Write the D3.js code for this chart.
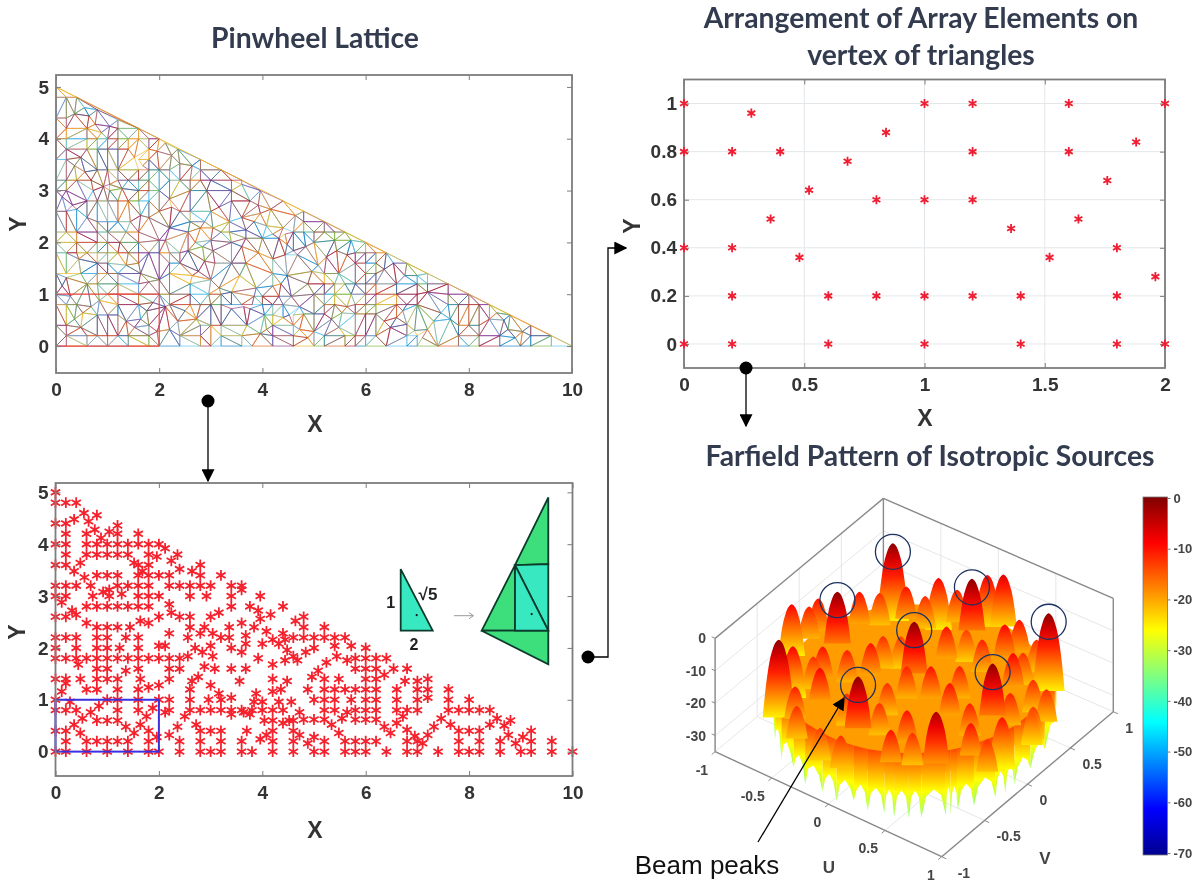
<!DOCTYPE html>
<html>
<head>
<meta charset="utf-8">
<style>
html, body { margin: 0; background: #fff; }
svg { display: block; filter: blur(0.45px); }
text { font-family: "Liberation Sans", Arial, sans-serif; }
.title { font-family: Lato, sans-serif; font-weight: 700; font-size: 28.3px; fill: #333b4e; text-anchor: middle; }
.tick text { font-weight: 700; fill: #333; }
</style>
</head>
<body>
<script src="https://cdn.jsdelivr.net/npm/d3@7"></script>
<script>
// elements inside the blue box
var boxElements = [
  [0,1],[1,1],[1.2,1],[1.6,1],[2,1],[0.28,0.96],[0.84,0.88],[1.88,0.84],
  [0,0.8],[0.2,0.8],[0.4,0.8],[1.2,0.8],[1.6,0.8],[0.68,0.76],[1.76,0.68],[0.52,0.64],
  [0.8,0.6],[1,0.6],[1.2,0.6],[0.36,0.52],[1.64,0.52],[1.36,0.48],
  [0,0.4],[0.2,0.4],[1.8,0.4],[0.48,0.36],[1.52,0.36],[1.96,0.28],
  [0.2,0.2],[0.6,0.2],[0.8,0.2],[1,0.2],[1.2,0.2],[1.4,0.2],[1.8,0.2],
  [0,0],[0.2,0],[0.6,0],[1,0],[1.4,0],[1.8,0],[2,0]
];
// the rest of the lattice vertices
var outerElements = [
  [0,5],[0,4.8],[0.2,4.8],[0.4,4.8],[0.55,4.6],[0.8,4.56],[0.36,4.48],[0.64,4.44],[0,4.4],[0.2,4.4],
  [1.2,4.36],[0.76,4.28],[1.04,4.24],[0.2,4.2],[0.6,4.2],[1.2,4.2],[1.6,4.2],[0.88,4.12],
  [0,4],[0.2,4],[0.6,4],[0.8,4],[1,4],[1.2,4],[1.4,4],[1.6,4],[1.8,4],[2,4],
  [2.12,3.92],[0.2,3.8],[0.6,3.8],[0.8,3.8],[1,3.8],[1.2,3.8],[1.4,3.8],[1.8,3.8],[2.36,3.8],[1.96,3.76],
  [2.24,3.68],[0.48,3.64],[1.52,3.64],[0,3.6],[0.2,3.6],[1.6,3.6],[1.8,3.6],[2.8,3.6],[2.4,3.52],
  [0.36,3.48],[1.68,3.48],[2.64,3.48],[0.8,3.4],[1,3.4],[1.2,3.4],[1.6,3.4],[1.8,3.4],[2,3.4],[2.2,3.4],[2.8,3.4],[3.2,3.4],
  [0.56,3.36],[0,3.2],[0.2,3.2],[0.4,3.2],[0.68,3.2],[1.2,3.2],[1.4,3.2],[1.6,3.2],[1.8,3.2],
  [2.2,3.2],[2.4,3.2],[2.6,3.2],[2.8,3.2],[3,3.2],[3.4,3.2],[3.6,3.2],[1.04,3.12],[3.6,3.12],[0.92,3.08],[1.28,3.04],
  [0,3],[0.2,3],[0.72,3],[1.04,3],[1.6,3],[1.8,3],[2,3],[2.6,3],[2.92,3],[3.4,3],[3.96,3],
  [0.12,2.88],[2.2,2.84],[0.6,2.8],[0.8,2.8],[1,2.8],[1.2,2.8],[1.4,2.8],[1.6,2.8],[1.8,2.8],[3.4,2.8],[3.76,2.8],[4.4,2.8],
  [0.32,2.72],[3.92,2.72],[2.24,2.68],[3.16,2.68],[0.4,2.64],[4.16,2.64],[0,2.6],[0.2,2.6],[2,2.6],[2.4,2.6],[2.6,2.6],[3,2.6],[4.8,2.6],
  [3.96,2.56],[1.64,2.52],[4.64,2.52],[0.6,2.48],[1.8,2.48],[3.6,2.48],
  [0.8,2.4],[1,2.4],[1.2,2.4],[1.44,2.4],[2.6,2.4],[2.88,2.4],[3.36,2.4],[3.84,2.4],[4.8,2.4],[5.2,2.4],
  [4.08,2.32],[2.2,2.28],[2.8,2.28],[3.04,2.28],[4.4,2.28],[3.68,2.24],
  [0,2.2],[0.2,2.2],[0.4,2.2],[0.8,2.2],[1,2.2],[1.36,2.2],[1.6,2.2],[2.56,2.2],[3.2,2.2],[3.36,2.2],[4.6,2.2],[4.8,2.2],[5,2.2],[5.2,2.2],[5.4,2.2],[5.6,2.2],
  [4.2,2.16],[4.44,2.16],[3.68,2.08],[4,2.08],[4.32,2.08],[2,2.04],[2.12,2.04],[3,2.04],[5.4,2.04],[5.72,2.04],
  [0,2],[0.4,2],[0.8,2],[1,2],[1.24,2],[1.6,2],[2.7,2],[3.4,2],[5,2],[6,2],
  [4.48,1.96],[2.84,1.92],[3.6,1.92],[4.84,1.92],[3.04,1.84],[2.56,1.84],[4.6,1.84],[5.44,1.84],
  [0,1.8],[0.2,1.8],[0.4,1.8],[0.6,1.8],[0.8,1.8],[1,1.8],[1.2,1.8],[1.4,1.8],[1.6,1.8],[1.8,1.8],[2,1.8],[2.2,1.8],[2.4,1.8],
  [3.92,1.8],[5.8,1.8],[6,1.8],[6.2,1.8],[6.4,1.8],[4.44,1.76],[4.68,1.76],[5.64,1.76],[5.24,1.72],[0.44,1.68],[4.2,1.68],
  [2.88,1.64],[0.8,1.6],[1,1.6],[1.6,1.6],[2.2,1.6],[2.4,1.6],[3.08,1.6],[3.4,1.6],[3.68,1.6],[5.8,1.6],[6,1.6],[6.2,1.6],[6.54,1.6],[6.8,1.6],
  [1.36,1.56],[5.08,1.56],[6.36,1.48],[2.76,1.44],[4.96,1.44],
  [0,1.4],[0.2,1.4],[0.48,1.4],[0.8,1.4],[1,1.4],[1.2,1.4],[1.64,1.4],[2.2,1.4],[4.2,1.4],[5.2,1.4],[5.48,1.4],[6,1.4],[6.2,1.4],[7.2,1.4],
  [2.64,1.36],[3.56,1.36],[4.48,1.36],[7,1.36],[6.76,1.36],[0.2,1.32],[2,1.28],[3,1.28],[1.8,1.24],
  [0.6,1.2],[0.8,1.2],[1.2,1.2],[1.6,1.2],[2.6,1.2],[4.36,1.2],[4.88,1.2],[5.2,1.2],[5.4,1.2],[5.6,1.2],[5.8,1.2],[6,1.2],[6.2,1.2],[6.6,1.2],[7,1.2],[7.2,1.2],[7.6,1.2],
  [0.12,1.16],[4.2,1.16],[3.16,1.12],[3.88,1.12],[3.4,1.04],[7.2,1.04],
  [2.2,1],[2.6,1],[2.96,1],[3.2,1],[5,1],[5.2,1],[5.4,1],[5.72,1],[6,1],[6.2,1],[6.6,1],[7,1],[7.6,1],[8,1],
  [3.84,0.96],[4,0.96],[4.32,0.96],[4.56,0.96],
  [2.2,0.8],[2.6,0.8],[2.8,0.8],[3,0.8],[3.2,0.8],[3.4,0.8],[3.6,0.8],[3.8,0.8],[4,0.8],[4.2,0.8],[4.4,0.8],
  [5.2,0.8],[5.4,0.8],[5.8,0.8],[6,0.8],[6.2,0.8],[6.6,0.8],[6.8,0.8],[7,0.8],[7.6,0.8],[7.8,0.8],[8,0.8],[8.2,0.8],[8.4,0.8],
  [2.12,0.76],[3.64,0.76],[4.72,0.76],[5.64,0.76],[3.76,0.72],[3.4,0.72],[2.5,0.68],[6.72,0.68],
  [5.54,0.64],[7.46,0.64],[8.54,0.64],[4.8,0.62],[5,0.62],[5.2,0.62],[5.8,0.62],[6,0.62],[6.2,0.62],
  [4.04,0.6],[4.2,0.6],[4.52,0.6],[4.6,0.6],[8.8,0.6],[4.4,0.55],[6.6,0.55],[2.72,0.52],[5.34,0.52],[7.64,0.52],[8.4,0.52],
  [8.68,0.5],[2.36,0.48],[6.36,0.48],[7.32,0.48],[6.8,0.42],
  [2.8,0.4],[3,0.4],[3.2,0.4],[3.7,0.4],[4.2,0.4],[4.6,0.4],[7.8,0.4],[8,0.4],[8.2,0.4],[9.2,0.4],
  [5.48,0.36],[6.48,0.36],[2.2,0.32],[4.08,0.32],[4.72,0.32],[7.2,0.32],[8.76,0.32],[6.95,0.3],[5,0.28],[9.04,0.28],[3.96,0.24],
  [2.4,0.2],[2.8,0.2],[3.2,0.2],[3.6,0.2],[4.2,0.2],[4.6,0.2],[5.2,0.2],[5.6,0.2],[5.8,0.2],[6,0.2],[6.2,0.2],[6.8,0.2],[7,0.2],[7.8,0.2],[8.2,0.2],[8.6,0.2],[9.2,0.2],[9.6,0.2],
  [7.1,0.16],[8.9,0.16],[4.88,0.16],
  [2.4,0],[2.8,0],[3,0],[3.2,0],[3.6,0],[3.8,0],[4.2,0],[4.6,0],[5,0],[5.2,0],[5.6,0],[5.8,0],[6,0],[6.4,0],[6.8,0],[7,0],[7.4,0],[7.8,0],[8,0],[8.2,0],[8.6,0],[9,0],[9.2,0],[9.6,0],[10,0]
];
var latticeEdgesRed = [[0,0,2,0],[0,1,2,1],[2,0,2,1]];
var latticeOuterEdge = [[0,5,10,0]];
var matlabColors = ['#0072BD','#D95319','#EDB120','#7E2F8E','#77AC30','#4DBEEE','#A2142F'];

// far field pattern: peak position (u, v) and level in dB
var beamPeaks = [[-0.65,0.61,-1],[-0.64,-0.05,-1],[0.04,0.62,-1],[0.71,0.63,-1],[0,0,-1],[0.73,-0.05,-1],[0.05,-0.72,-1]];
var cornerPeaks = [[-0.65,-0.72,-1],[0.69,-0.655,-3]];
var sideLobes = [
  [-0.99,-0.12,-9],[-0.92,-0.01,-11],[-0.9,0.07,-10],[-0.71,0.3,-10],[-0.63,0.43,-12],[-0.48,0.54,-10],[-0.35,0.59,-12],[-0.33,0.72,-9],
  [-0.19,0.75,-11],[-0.05,0.92,-8],[0.06,0.96,-7],[0.39,0.71,-10],[0.58,0.66,-12],
  [-0.7,-0.49,-9],[-0.58,-0.41,-12],[-0.55,-0.34,-10],[-0.41,-0.24,-11],[-0.3,-0.11,-10],[-0.32,0.06,-12],[-0.24,0.16,-13],
  [0.02,0.35,-10],[0.09,0.49,-13],[0.29,0.41,-11],[0.36,0.58,-9],[0.59,0.49,-12],
  [-0.46,-0.78,-11],[-0.4,-0.57,-9],[-0.14,-0.6,-12],[0.02,-0.34,-12],[0.04,-0.14,-11],[0.2,-0.07,-10],[0.34,0.08,-11],[0.6,0.36,-9],[0.83,0.29,-12],[0.97,0.26,-12],
  [-0.34,-0.92,-12],[-0.08,-0.99,-13],[0.11,-0.55,-12],[0.36,-0.56,-10],[0.42,-0.14,-10],[0.65,-0.21,-11],[0.81,0.05,-11],[0.99,0.08,-13],
  [0.11,-1,-12],[0.4,-0.8,-10],[0.5,-0.68,-12],[0.81,-0.41,-10],[0.97,-0.43,-12],[0.95,-0.23,-10],[1,0.05,-14]
];
// nulls along the front rim: angle on the unit circle (deg) and depth (dB)
var rimAngles = [-143,-131,-122,-111,-103,-93,-86,-78,-72,-65,-61,-55,-50,-40,-38,-35,-28,-18,-13,-8,2,14,29,37];
var rimDepths = [-26,-31,-33,-31,-33,-32,-33,-31,-33,-33,-34,-34,-34,-34,-34,-33,-33,-33,-33,-32,-31,-30,-28,-26];

var jetColors = ['#00008f','#0000ff','#00ffff','#ffff00','#ff0000','#800000'];
var jetLevels = [-70,-61,-44,-26,-9,0];
var colorbarTicks = [0,-10,-20,-30,-40,-50,-60,-70];
var surfaceTicks = [-1,-0.5,0,0.5,1];
var surfaceZTicks = [0,-10,-20,-30];

// inset, one unit is the short leg of the small triangle
var smallTriangle = [[0,0],[0,1.85],[0.96,0]];
var greenParts = [[[2,4],[1,1.97],[2,2]],[[0,0],[1,1.97],[1,0]],[[0,0],[2,0],[2,-1.01]]];
var aquaParts = [[[1,1.97],[2,2],[2,0]],[[1,1.97],[1,0],[2,0]]];

var svg = d3.select('body').append('svg').attr('width', 1201).attr('height', 882);
var defs = svg.append('defs');
var boxGrey = '#7d7d7d';

var head = defs.append('marker').attr('id', 'head').attr('viewBox', '0 0 10 10').attr('refX', 9).attr('refY', 5)
  .attr('markerUnits', 'userSpaceOnUse').attr('markerWidth', 13).attr('markerHeight', 13).attr('orient', 'auto');
head.append('path').attr('d', 'M0,0L10,5L0,10Z').attr('fill', '#000');

function drawAxes(g, x, y, xTicks, yTicks, grid) {
  var xr = x.range(), yr = y.range();
  if (grid) {
    g.selectAll('.gx').data(xTicks).enter().append('line')
      .attr('x1', x).attr('x2', x).attr('y1', yr[0]).attr('y2', yr[1]).attr('stroke', '#e4e7ea');
    g.selectAll('.gy').data(yTicks).enter().append('line')
      .attr('y1', y).attr('y2', y).attr('x1', xr[0]).attr('x2', xr[1]).attr('stroke', '#e4e7ea');
  }
  var fmt = function(d) { return String(d); };
  var bottom = g.append('g').attr('transform', 'translate(0,' + yr[0] + ')')
    .call(d3.axisBottom(x).tickValues(xTicks).tickFormat(fmt).tickSize(-5).tickPadding(10));
  var left = g.append('g').attr('transform', 'translate(' + xr[0] + ',0)')
    .call(d3.axisLeft(y).tickValues(yTicks).tickFormat(fmt).tickSize(-5).tickPadding(7));
  var top = g.append('g').attr('transform', 'translate(0,' + yr[1] + ')')
    .call(d3.axisTop(x).tickValues(xTicks).tickFormat('').tickSize(-5));
  var right = g.append('g').attr('transform', 'translate(' + xr[1] + ',0)')
    .call(d3.axisRight(y).tickValues(yTicks).tickFormat('').tickSize(-5));
  [bottom, left, top, right].forEach(function(a) {
    a.select('.domain').remove();
    a.selectAll('line').attr('stroke', boxGrey);
    a.selectAll('text').attr('font-size', 19).attr('font-family', '"Liberation Sans", Arial, sans-serif');
  });
  g.append('rect').attr('x', xr[0]).attr('y', yr[1]).attr('width', xr[1] - xr[0]).attr('height', yr[0] - yr[1])
    .attr('fill', 'none').attr('stroke', boxGrey).attr('stroke-width', 1.8);
}

function axisLabel(x, y, txt, rotate) {
  svg.append('text').attr('transform', 'translate(' + x + ',' + y + ')' + (rotate ? ' rotate(-90)' : ''))
    .attr('text-anchor', 'middle').attr('font-weight', 700).attr('font-size', 23).attr('fill', '#333').text(txt);
}

// ---- top left, lattice
var ax = d3.scaleLinear().domain([0, 10]).range([56, 572]);
var ay = d3.scaleLinear().domain([-0.52, 5.23]).range([373, 75]);
var panelA = svg.append('g');
var allElements = boxElements.concat(outerElements);
var mesh = d3.Delaunay.from(allElements);
var triangles = [];
for (var t = 0; t < mesh.triangles.length; t += 3) {
  var p0 = allElements[mesh.triangles[t]], p1 = allElements[mesh.triangles[t + 1]], p2 = allElements[mesh.triangles[t + 2]];
  // slivers along the hypotenuse only darken it
  var area = Math.abs((p1[0] - p0[0]) * (p2[1] - p0[1]) - (p2[0] - p0[0]) * (p1[1] - p0[1])) / 2;
  if (area > 0.012) triangles.push([mesh.triangles[t], mesh.triangles[t + 1], mesh.triangles[t + 2]]);
}
var meshLine = d3.line().x(function(i) { return ax(allElements[i][0]); }).y(function(i) { return ay(allElements[i][1]); })
  .curve(d3.curveLinearClosed);
panelA.selectAll('.tri').data(triangles).enter().append('path')
  .attr('d', meshLine).attr('fill', 'none').attr('stroke-width', 1).attr('stroke-opacity', 0.62)
  .attr('stroke', function(d, i) { return matlabColors[i % matlabColors.length]; });
panelA.selectAll('.hyp').data(latticeOuterEdge).enter().append('line')
  .attr('x1', function(d) { return ax(d[0]); }).attr('y1', function(d) { return ay(d[1]); })
  .attr('x2', function(d) { return ax(d[2]); }).attr('y2', function(d) { return ay(d[3]); })
  .attr('stroke', '#EDB120').attr('stroke-opacity', 0.8);
panelA.selectAll('.red').data(latticeEdgesRed).enter().append('line')
  .attr('x1', function(d) { return ax(d[0]); }).attr('y1', function(d) { return ay(d[1]); })
  .attr('x2', function(d) { return ax(d[2]); }).attr('y2', function(d) { return ay(d[3]); })
  .attr('stroke', '#e8413c').attr('stroke-width', 1.2);
drawAxes(panelA, ax, ay, [0, 2, 4, 6, 8, 10], [0, 1, 2, 3, 4, 5]);
svg.append('text').attr('class', 'title').attr('x', 315).attr('y', 48).text('Pinwheel Lattice');
axisLabel(315, 432, 'X');
axisLabel(26, 224, 'Y', true);

// ---- bottom left, elements
var cx = d3.scaleLinear().domain([0, 10]).range([55.5, 572.5]);
var cy = d3.scaleLinear().domain([-0.47, 5.18]).range([776, 483]);
var panelC = svg.append('g');
var starLarge = d3.symbol().type(d3.symbolAsterisk).size(82);
panelC.selectAll('.star').data(allElements).enter().append('path')
  .attr('d', starLarge).attr('fill', 'none').attr('stroke', '#f5222d').attr('stroke-width', 1.8)
  .attr('transform', function(d) { return 'translate(' + cx(d[0]) + ',' + cy(d[1]) + ')'; });
panelC.append('rect').attr('x', cx(0)).attr('y', cy(1)).attr('width', cx(2) - cx(0)).attr('height', cy(0) - cy(1))
  .attr('fill', 'none').attr('stroke', '#3a30e0').attr('stroke-width', 2);
drawAxes(panelC, cx, cy, [0, 2, 4, 6, 8, 10], [0, 1, 2, 3, 4, 5]);
axisLabel(315, 838, 'X');
axisLabel(25, 632, 'Y', true);

// inset triangles
var unit = d3.scaleLinear().domain([0, 1]).range([0, 33.3]);
var polyLine = d3.line().x(function(d) { return unit(d[0]); }).y(function(d) { return -unit(d[1]); }).curve(d3.curveLinearClosed);
var insetSmall = svg.append('g').attr('transform', 'translate(400.7,630.7)');
insetSmall.append('path').datum(smallTriangle).attr('d', polyLine).attr('fill', '#38e8c0').attr('stroke', '#0c3b2c').attr('stroke-width', 1.8);
insetSmall.append('circle').attr('cx', unit(0.48)).attr('cy', -unit(0.47)).attr('r', 1.1).attr('fill', '#111');
var insetBig = svg.append('g').attr('transform', 'translate(481.7,630.7)');
insetBig.selectAll('.g').data(greenParts).enter().append('path').attr('d', polyLine)
  .attr('fill', '#3ddf7c').attr('stroke', '#0c3b2c').attr('stroke-width', 1.8);
insetBig.selectAll('.a').data(aquaParts).enter().append('path').attr('d', polyLine)
  .attr('fill', '#38e8c0').attr('stroke', '#0c3b2c').attr('stroke-width', 1.8);
insetBig.append('circle').attr('cx', unit(1.5)).attr('cy', -unit(0.5)).attr('r', 1.1).attr('fill', '#111');
[['1', 390.7, 608, 16], ['\u221A5', 428, 600, 17], ['2', 414, 650, 16]].forEach(function(d) {
  svg.append('text').attr('x', d[1]).attr('y', d[2]).attr('text-anchor', 'middle').attr('font-size', d[3])
    .attr('font-weight', 700).attr('fill', '#222').text(d[0]);
});
svg.append('path').attr('d', 'M454,615.7H473M469,612.7L473.5,615.7L469,618.7').attr('fill', 'none').attr('stroke', '#999').attr('stroke-width', 1);

// ---- top right, elements in the box
var bx = d3.scaleLinear().domain([0, 2]).range([684, 1165]);
var by = d3.scaleLinear().domain([-0.1, 1.1]).range([368, 79.5]);
var panelB = svg.append('g');
drawAxes(panelB, bx, by, [0, 0.5, 1, 1.5, 2], [0, 0.2, 0.4, 0.6, 0.8, 1], true);
var starSmall = d3.symbol().type(d3.symbolAsterisk).size(58);
panelB.selectAll('.star').data(boxElements).enter().append('path')
  .attr('d', starSmall).attr('fill', 'none').attr('stroke', '#f01e32').attr('stroke-width', 1.8)
  .attr('transform', function(d) { return 'translate(' + bx(d[0]) + ',' + by(d[1]) + ')'; });
svg.append('text').attr('class', 'title').attr('x', 921).attr('y', 28).text('Arrangement of Array Elements on');
svg.append('text').attr('class', 'title').attr('x', 921).attr('y', 65).text('vertex of triangles');
axisLabel(925, 426, 'X');
axisLabel(640, 226, 'Y', true);

// ---- bottom right, far field
svg.append('text').attr('class', 'title').attr('x', 930).attr('y', 466).text('Farfield Pattern of Isotropic Sources');

var jet = d3.scaleLinear().domain(jetLevels).range(jetColors).clamp(true);
var uX = d3.scaleLinear().domain([-1, 1]).range([-113.3, 113.3]);
var uY = d3.scaleLinear().domain([-1, 1]).range([-52.5, 52.5]);
var vX = d3.scaleLinear().domain([-1, 1]).range([-85.8, 85.8]);
var vY = d3.scaleLinear().domain([-1, 1]).range([72.5, -72.5]);
var zY = d3.scaleLinear().domain([-35, 0]).range([0, -113.3]);
var originX = 914.2, originY = 731.7;
function project(u, v, z) {
  return [originX + uX(u) + vX(v), originY + uY(u) + vY(v) + zY(z)];
}
// the box has a little perspective, its far corner sits left and low
function boxProject(u, v, z) {
  var p = project(u, v, z), far = (1 - u) * (v + 1) / 4;
  return [p[0] - 3.3 * far, p[1] + 5 * far];
}
var surf = svg.append('g');
var grey = d3.line();
function seg3(a, b, color, w) {
  surf.append('path').attr('d', grey([boxProject(a[0], a[1], a[2]), boxProject(b[0], b[1], b[2])]))
    .attr('fill', 'none').attr('stroke', color).attr('stroke-width', w);
}
// grid on floor and back walls
surfaceTicks.forEach(function(t) {
  seg3([t, -1, -35], [t, 1, -35], '#e6e6e6', 1);
  seg3([-1, t, -35], [1, t, -35], '#e6e6e6', 1);
  seg3([-1, t, -35], [-1, t, 0], '#e6e6e6', 1);
  seg3([t, 1, -35], [t, 1, 0], '#e6e6e6', 1);
});
surfaceZTicks.forEach(function(z) {
  seg3([-1, -1, z], [-1, 1, z], '#e6e6e6', 1);
  seg3([-1, 1, z], [1, 1, z], '#e6e6e6', 1);
});
[[[-1, -1, -35], [-1, -1, 0]], [[-1, -1, 0], [-1, 1, 0]], [[-1, 1, 0], [1, 1, 0]], [[1, 1, 0], [1, 1, -35]], [[-1, 1, 0], [-1, 1, -35]],
 [[-1, -1, -35], [1, -1, -35]], [[1, -1, -35], [1, 1, -35]]].forEach(function(e) { seg3(e[0], e[1], '#8a8a8a', 1.4); });

// floor disc behind the lobes
var discPts = d3.range(0, 360, 6).map(function(a) {
  return project(0.95 * Math.cos(a * Math.PI / 180), 0.95 * Math.sin(a * Math.PI / 180), -22);
});
surf.append('path').attr('d', d3.line().curve(d3.curveLinearClosed)(discPts)).attr('fill', '#ff9d00');

function addGradient(id, zTop, zBottom, yTop, yBottom) {
  var grad = defs.append('linearGradient').attr('id', id).attr('gradientUnits', 'userSpaceOnUse')
    .attr('x1', 0).attr('x2', 0).attr('y1', yTop).attr('y2', yBottom);
  d3.range(0, 1.01, 0.2).forEach(function(f) {
    grad.append('stop').attr('offset', f).attr('stop-color', jet(zTop + (zBottom - zTop) * f));
  });
}

// rim skirt with the nulls hanging below it
var rimLine = d3.line().curve(d3.curveLinear);
function rimPoint(a, z) { return project(Math.cos(a * Math.PI / 180), Math.sin(a * Math.PI / 180), z); }
rimAngles.slice(1).forEach(function(a2, i) {
  var a1 = rimAngles[i], d1 = rimDepths[i], d2 = rimDepths[i + 1];
  var mid = (a1 + a2) / 2;
  var topLeft = rimPoint(a1, -14), topRight = rimPoint(a2, -14);
  var tip1 = rimPoint(a1, d1), tip2 = rimPoint(a2, d2);
  var lo1 = rimPoint(a1 + (a2 - a1) * 0.2, -27.5), lo2 = rimPoint(mid, -25.5), lo3 = rimPoint(a2 - (a2 - a1) * 0.2, -27.5);
  var id = 'rim' + i;
  addGradient(id, -14, -34, rimPoint(mid, -14)[1], rimPoint(mid, -34)[1]);
  surf.append('path').attr('d', rimLine([topLeft, tip1, lo1, lo2, lo3, tip2, topRight]) + 'Z').attr('fill', 'url(#' + id + ')');
});

// lobes, back to front. inner lobes stand on the orange floor, rim lobes stop above the nulls
var lobeProfile = [[0, 0], [0.6, 2.6], [1.5, 4.4], [3, 6.2], [6, 8.8], [10, 11], [16, 13.5], [24, 16], [36, 17.5]];
var lobeLine = d3.line().curve(d3.curveCatmullRom);
var lobeBase = d3.scaleLinear().domain([0.6, 0.95]).range([-24, -26]).clamp(true);
var lobes = beamPeaks.concat(cornerPeaks, sideLobes).slice().sort(function(a, b) {
  return project(a[0], a[1], -35)[1] - project(b[0], b[1], -35)[1];
});
lobes.forEach(function(d, i) {
  var zBase = lobeBase(Math.hypot(d[0], d[1]));
  var pk = project(d[0], d[1], d[2]);
  var side = lobeProfile.filter(function(p) { return d[2] - p[0] >= zBase; });
  var yAt = function(dz) { return project(d[0], d[1], d[2] - dz)[1]; };
  var rightSide = side.map(function(p) { return [pk[0] + p[1], yAt(p[0])]; });
  var leftSide = side.slice(1).reverse().map(function(p) { return [pk[0] - p[1], yAt(p[0])]; });
  var id = 'lobe' + i;
  addGradient(id, d[2], zBase, pk[1], project(d[0], d[1], zBase)[1]);
  surf.append('path').attr('d', lobeLine(leftSide.concat(rightSide)) + 'Z').attr('fill', 'url(#' + id + ')');
});

// rings around the beam peaks
surf.selectAll('.ring').data(beamPeaks).enter().append('circle')
  .attr('cx', function(d) { return project(d[0], d[1], d[2])[0]; })
  .attr('cy', function(d) { return project(d[0], d[1], d[2])[1] + 8.5; })
  .attr('r', 17.5).attr('fill', 'none').attr('stroke', '#1d3260').attr('stroke-width', 1.3);

// tick labels of the surface box
function surfText(p, txt, anchor, size) {
  svg.append('text').attr('x', p[0]).attr('y', p[1]).attr('text-anchor', anchor).attr('font-size', size)
    .attr('font-weight', 700).attr('fill', '#444').text(txt);
}
surfaceTicks.forEach(function(t) {
  var pu = project(t, -1, -35), pv = project(1, t, -35);
  seg3([t, -1, -35], [t, -1.04, -35], '#8a8a8a', 1);
  seg3([1, t, -35], [1.04, t, -35], '#8a8a8a', 1);
  surfText([pu[0] - 7, pu[1] + 23], String(t), 'end', 14);
  surfText([pv[0] + (t === -1 ? 16 : 12), pv[1] + 21], String(t), 'start', 14);
});
surfaceZTicks.forEach(function(z) {
  var p = project(-1, -1, z);
  seg3([-1, -1, z], [-1.03, -1, z], '#8a8a8a', 1);
  surfText([p[0] - 9, p[1] + 5], String(z), 'end', 14);
});
surfText([829, 873], 'U', 'middle', 17);
surfText([1045, 864], 'V', 'middle', 17);

// colorbar
var barY = d3.scaleLinear().domain([0, -70]).range([498, 853]);
var barGrad = defs.append('linearGradient').attr('id', 'jetbar').attr('x1', 0).attr('x2', 0).attr('y1', 1).attr('y2', 0);
jetLevels.forEach(function(l) {
  barGrad.append('stop').attr('offset', (l + 70) / 70).attr('stop-color', jet(l));
});
svg.append('rect').attr('x', 1143).attr('y', 497).attr('width', 24.5).attr('height', 358)
  .attr('fill', 'url(#jetbar)').attr('stroke', '#777').attr('stroke-width', 0.8);
var barAxis = svg.append('g').attr('transform', 'translate(1167.5,0)')
  .call(d3.axisRight(barY).tickValues(colorbarTicks).tickSize(3).tickPadding(3).tickFormat(function(d) { return String(d); }));
barAxis.select('.domain').remove();
barAxis.selectAll('line').attr('stroke', '#777');
barAxis.selectAll('text').attr('font-size', 13).attr('font-family', '"Liberation Sans", Arial, sans-serif').style('fill', '#444');

// flow arrows between the panels
function dot(x, y) { svg.append('circle').attr('cx', x).attr('cy', y).attr('r', 6.5).attr('fill', '#000'); }
function flow(pts) {
  svg.append('path').attr('d', d3.line()(pts)).attr('fill', 'none').attr('stroke', '#000').attr('stroke-width', 1.3)
    .attr('marker-end', 'url(#head)');
}
dot(208, 401); flow([[208, 401], [208, 481]]);
dot(746, 368); flow([[746, 368], [746, 426]]);
dot(588, 657); flow([[588, 657], [608, 657], [608, 248], [626, 248]]);

// beam peak call out
svg.append('path').attr('d', d3.line()([[758, 842], [844, 698]])).attr('fill', 'none').attr('stroke', '#000')
  .attr('stroke-width', 1.3).attr('marker-end', 'url(#head)');
svg.append('text').attr('x', 707).attr('y', 874).attr('text-anchor', 'middle').attr('font-family', 'Lato, sans-serif')
  .attr('font-size', 26).attr('fill', '#111').text('Beam peaks');
</script>
</body>
</html>
